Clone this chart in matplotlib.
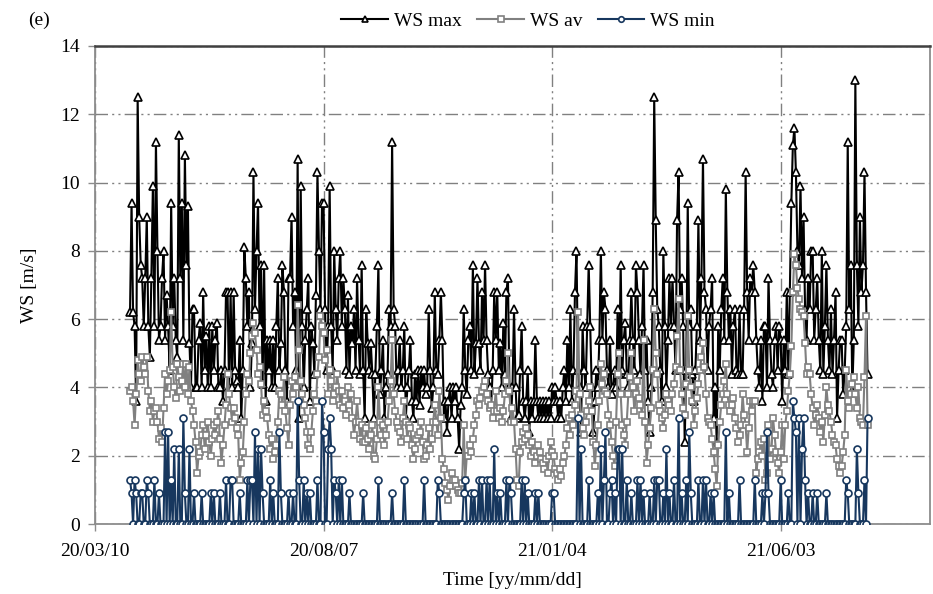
import matplotlib
matplotlib.use("Agg")
import matplotlib.pyplot as plt
import matplotlib.dates as mdates
import numpy as np

plt.rcParams['font.family'] = ['Liberation Serif', 'DejaVu Serif']

# daily series, first day 2020-04-02
start_day = "2020-04-02"

ws_max = [
    6.2, 9.4, 6.2, 5.8, 3.6, 12.5, 9.0, 7.6, 7.2, 5.8, 7.2, 9.0, 5.8, 4.9, 7.2, 9.9, 5.8, 11.2, 8.0, 5.4,
    5.8, 7.2, 8.0, 5.4, 6.7, 5.8, 4.5, 9.4, 5.8, 7.2, 5.4, 4.9, 11.4, 7.2, 9.4, 5.4, 10.8, 7.6, 9.3, 5.3,
    4.0, 6.3, 6.3, 4.0, 4.0, 5.4, 5.9, 4.0, 6.8, 4.5, 5.5, 4.0, 5.8, 4.0, 5.8, 4.5, 5.4, 5.9, 4.0, 4.0,
    4.5, 3.6, 4.5, 6.8, 6.8, 4.0, 6.8, 4.0, 6.8, 4.5, 4.2, 4.0, 5.4, 3.1, 4.5, 8.1, 7.2, 5.8, 6.8, 4.0,
    5.3, 10.3, 6.3, 8.0, 9.4, 5.8, 7.6, 4.1, 7.6, 3.6, 5.4, 4.5, 5.4, 4.0, 5.4, 4.0, 5.8, 7.2, 4.5, 5.3,
    7.6, 6.8, 4.5, 3.6, 7.2, 7.2, 9.0, 5.8, 6.8, 4.5, 10.7, 3.1, 9.9, 5.8, 4.0, 5.4, 6.3, 7.2, 3.6, 5.8,
    5.3, 4.4, 6.7, 10.3, 8.0, 6.3, 9.4, 9.4, 6.3, 4.5, 5.8, 9.9, 5.8, 4.5, 8.0, 6.3, 5.4, 7.2, 8.0, 5.8,
    7.2, 6.3, 4.5, 6.7, 4.4, 5.8, 5.3, 6.3, 4.5, 7.2, 5.4, 4.4, 7.6, 4.5, 3.1, 6.3, 5.3, 4.5, 5.3, 4.4,
    3.1, 4.4, 5.8, 7.6, 3.8, 4.5, 5.4, 3.1, 4.0, 4.4, 6.3, 5.8, 11.2, 6.3, 5.8, 4.0, 4.5, 5.4, 4.0, 4.5,
    5.8, 3.1, 4.0, 4.5, 5.4, 3.6, 3.1, 4.4, 3.6, 4.5, 3.5, 4.5, 4.0, 4.5, 3.8, 4.0, 6.3, 4.5, 3.4, 4.0,
    6.8, 4.5, 4.4, 5.4, 6.8, 5.4, 3.1, 3.6, 2.7, 3.6, 4.0, 3.1, 4.0, 3.6, 4.0, 3.1, 2.2, 3.5, 4.0, 6.3,
    4.5, 3.8, 5.4, 5.8, 4.5, 7.6, 4.4, 5.3, 7.2, 5.3, 4.5, 6.8, 5.4, 7.6, 5.4, 4.4, 4.0, 3.5, 4.5, 6.8,
    5.4, 6.8, 4.5, 5.3, 4.0, 5.9, 4.4, 6.8, 7.2, 4.0, 3.1, 4.0, 6.3, 4.0, 3.1, 3.2, 4.5, 5.8, 3.6, 3.1,
    3.6, 4.5, 2.7, 3.6, 3.1, 3.6, 5.4, 3.6, 3.1, 3.6, 3.1, 3.6, 3.1, 3.6, 3.1, 3.6, 3.1, 4.0, 3.6, 4.0,
    3.6, 3.1, 3.6, 3.1, 4.0, 4.5, 3.6, 5.4, 4.0, 6.3, 3.6, 4.5, 6.8, 8.0, 4.5, 4.0, 2.7, 5.8, 4.5, 4.0,
    5.8, 7.6, 5.8, 4.0, 2.7, 3.6, 4.5, 4.0, 5.4, 8.0, 5.4, 6.8, 6.3, 4.5, 4.0, 5.4, 3.8, 4.0, 4.5, 4.0,
    6.3, 4.4, 7.6, 4.5, 5.4, 5.9, 4.4, 4.0, 5.4, 6.8, 5.4, 4.5, 7.6, 6.8, 5.4, 4.4, 5.8, 7.6, 4.5, 5.4,
    3.6, 2.7, 4.0, 6.8, 12.5, 8.9, 6.3, 5.8, 4.5, 3.6, 8.0, 5.8, 4.0, 5.4, 7.2, 5.8, 7.2, 5.8, 4.5, 8.9,
    10.3, 6.3, 7.2, 5.8, 2.4, 4.5, 9.4, 5.8, 6.3, 4.4, 3.6, 4.5, 5.8, 8.9, 5.4, 7.2, 10.7, 6.8, 6.3, 4.5,
    5.8, 6.3, 7.2, 3.1, 4.0, 2.4, 5.8, 4.5, 6.3, 7.2, 5.4, 9.8, 6.8, 5.4, 6.3, 4.4, 5.8, 6.3, 4.5, 4.4,
    6.3, 4.4, 4.4, 6.3, 10.3, 6.8, 5.4, 7.2, 6.8, 7.6, 6.8, 5.4, 4.5, 4.0, 5.4, 3.6, 5.8, 5.8, 4.0, 7.2,
    5.4, 4.4, 4.0, 5.4, 5.8, 4.5, 5.8, 5.4, 3.6, 5.4, 4.5, 6.8, 4.4, 6.8, 9.4, 11.1, 11.6, 10.3, 8.0, 7.6,
    9.9, 7.2, 9.0, 6.3, 5.4, 7.2, 6.3, 8.0, 8.0, 5.4, 6.3, 7.2, 5.4, 4.5, 8.0, 4.4, 5.8, 7.6, 5.4, 4.5,
    6.3, 4.4, 5.4, 6.8, 3.1, 4.5, 5.4, 5.4, 3.8, 4.5, 5.8, 11.2, 6.3, 7.6, 3.9, 5.4, 13.0, 7.6, 5.8, 9.0,
    6.8, 7.6, 10.3, 6.8, 4.4,
]

ws_av = [
    3.9, 4.0, 3.6, 2.9, 3.8, 4.8, 4.4, 4.2, 4.9, 4.6, 4.4, 4.9, 3.9, 3.3, 3.6, 3.0, 3.3, 3.4, 3.0, 2.5,
    2.8, 2.4, 3.4, 4.4, 3.8, 4.2, 4.5, 6.2, 4.6, 4.0, 3.7, 4.7, 4.3, 3.9, 4.2, 4.7, 4.0, 4.7, 3.8, 4.6,
    3.6, 3.3, 2.9, 2.4, 1.5, 2.0, 2.1, 2.6, 2.9, 2.2, 2.6, 3.0, 2.4, 2.0, 2.5, 2.9, 2.6, 3.0, 3.3, 2.5,
    1.8, 2.3, 2.9, 3.5, 4.4, 3.8, 3.4, 3.0, 3.4, 3.1, 2.8, 2.6, 1.3, 1.8, 2.1, 3.0, 3.8, 4.4, 4.2, 5.0,
    5.5, 5.9, 5.6, 5.1, 4.4, 4.6, 4.1, 3.2, 3.6, 3.3, 3.1, 2.6, 2.2, 2.5, 1.9, 2.1, 2.3, 3.0, 3.9, 3.8,
    3.5, 4.3, 3.3, 2.8, 2.3, 3.5, 4.2, 3.8, 4.3, 4.0, 6.4, 5.1, 4.2, 3.8, 3.5, 3.1, 2.7, 2.3, 2.2, 2.7,
    3.3, 3.8, 3.6, 4.4, 4.9, 6.1, 5.8, 5.6, 4.8, 5.1, 3.8, 4.5, 4.2, 3.6, 3.8, 4.0, 4.4, 3.9, 3.5, 3.9,
    3.4, 3.6, 3.2, 4.0, 3.5, 3.8, 3.1, 2.6, 3.0, 3.6, 3.0, 2.5, 2.9, 2.4, 2.4, 2.8, 2.5, 2.2, 2.6, 2.9,
    2.0, 1.9, 2.5, 4.0, 3.0, 2.6, 2.9, 2.3, 2.6, 3.0, 3.6, 4.2, 5.4, 3.8, 3.3, 3.0, 2.8, 2.7, 2.4, 3.1,
    3.6, 3.0, 2.5, 2.9, 2.8, 2.3, 1.9, 2.2, 2.5, 2.6, 2.7, 3.0, 2.4, 1.9, 2.0, 2.3, 2.8, 2.2, 2.5, 3.0,
    3.5, 3.0, 2.6, 3.9, 3.1, 1.9, 1.6, 1.2, 1.0, 0.7, 1.1, 1.5, 1.3, 1.3, 1.1, 1.0, 0.9, 0.9, 1.2, 2.9,
    1.3, 2.0, 2.0, 2.3, 2.1, 2.5, 2.9, 3.2, 3.6, 3.5, 3.7, 3.9, 4.0, 4.2, 3.8, 3.6, 3.4, 3.5, 3.1, 3.3,
    3.9, 3.3, 3.1, 3.4, 3.0, 3.3, 3.8, 4.2, 5.0, 3.9, 3.0, 3.4, 3.0, 2.2, 1.3, 1.1, 2.1, 2.4, 2.7, 2.5,
    2.8, 2.6, 2.3, 2.0, 2.4, 2.1, 1.8, 2.0, 2.3, 2.1, 1.9, 1.8, 1.6, 1.9, 1.5, 2.0, 2.4, 2.1, 2.0, 1.6,
    1.5, 1.3, 1.6, 1.4, 1.8, 2.0, 2.3, 2.8, 3.1, 2.6, 3.2, 2.9, 3.5, 3.9, 6.2, 3.8, 3.2, 2.8, 2.6, 3.0,
    3.3, 3.6, 4.0, 3.3, 2.4, 1.7, 2.3, 2.9, 3.6, 4.7, 4.1, 4.4, 3.9, 3.8, 3.2, 2.9, 2.4, 2.0, 1.7, 3.0,
    4.4, 5.0, 3.8, 2.9, 2.6, 2.3, 3.0, 3.8, 4.3, 5.0, 4.0, 3.3, 3.8, 4.2, 3.7, 3.5, 3.2, 5.4, 3.0, 1.8,
    2.3, 2.8, 3.4, 4.5, 6.3, 5.0, 4.4, 3.5, 3.3, 3.1, 2.8, 3.2, 3.8, 3.6, 3.5, 3.3, 3.8, 4.1, 4.6, 5.5,
    6.6, 4.5, 3.8, 3.4, 3.2, 4.1, 6.1, 4.5, 4.0, 3.6, 2.9, 3.3, 3.7, 4.1, 4.5, 4.9, 5.3, 4.6, 3.8, 3.1,
    3.0, 2.9, 2.5, 2.1, 1.6, 1.1, 2.3, 3.0, 3.5, 3.8, 4.2, 4.7, 3.8, 3.5, 3.3, 3.5, 3.7, 3.1, 2.8, 2.4,
    2.6, 2.9, 3.8, 3.2, 2.9, 2.1, 2.8, 3.6, 3.3, 3.6, 3.6, 1.5, 1.9, 2.1, 2.4, 2.0, 2.5, 1.3, 1.5, 2.9,
    1.9, 2.2, 3.1, 2.6, 2.1, 1.8, 1.5, 2.1, 2.9, 1.9, 2.9, 3.3, 3.9, 4.4, 5.2, 6.8, 7.9, 7.6, 6.9, 6.6,
    6.3, 6.2, 6.1, 5.3, 4.4, 4.6, 4.4, 3.8, 3.4, 2.9, 3.2, 3.5, 3.1, 2.7, 3.0, 2.4, 3.2, 4.0, 3.5, 3.3,
    3.0, 2.6, 2.4, 2.3, 1.9, 1.7, 1.5, 1.7, 2.1, 2.6, 4.5, 3.6, 3.4, 3.8, 4.1, 4.3, 3.8, 3.4, 4.0, 3.1,
    3.0, 2.9, 4.3, 6.1, 2.9,
]

ws_min = [
    1.3, 0.9, 0, 1.3, 0.9, 0, 0, 0.9, 0.9, 0, 0, 1.3, 0.9, 0, 0, 0, 1.3, 0, 0, 0.9,
    0, 0, 0, 2.7, 0, 2.7, 0, 1.3, 0, 2.2, 0, 0, 2.2, 0, 0, 3.1, 0.9, 0, 0, 2.2,
    0, 0, 0.9, 0, 0, 0, 0, 0.9, 0, 0, 0, 0, 0, 0.9, 0, 0.9, 0, 0, 0, 0.9,
    0, 0, 0, 1.3, 0, 0, 1.3, 1.3, 0, 0, 0, 0, 0.9, 0, 0, 0, 0, 1.3, 0, 1.3,
    1.3, 0, 2.7, 0, 2.2, 0, 2.2, 0.9, 0, 0, 0, 0, 1.3, 0, 0.9, 0, 0, 0, 2.7, 0.9,
    0, 0, 0, 0, 0.9, 0, 0, 0.9, 0, 0, 3.6, 1.3, 0, 0, 1.3, 0, 0.9, 0, 0.9, 0,
    0, 0, 0, 1.3, 0, 0, 3.6, 2.7, 0, 0, 2.2, 3.1, 2.2, 0, 1.3, 0.9, 0, 1.3, 0, 1.3,
    0, 0, 0, 0, 0.9, 0, 0, 0, 0, 0, 0, 0, 0, 0.9, 0, 0, 0, 0, 0, 0,
    0, 0, 0, 1.3, 0, 0, 0, 0, 0, 0, 0, 0, 0.9, 0, 0, 0, 0, 0, 0, 0,
    1.3, 0, 0, 0, 0, 0, 0, 0, 0, 0, 0, 0, 0, 1.3, 0, 0, 0, 0, 0, 0,
    0, 0, 1.3, 0.9, 0, 0, 0, 0, 0, 0, 0, 0, 0, 0, 0, 0, 0, 0, 0, 0.9,
    1.3, 0, 0, 0, 0.9, 0, 0.9, 0, 0, 1.3, 0, 1.3, 0, 0, 1.3, 0, 1.3, 0, 0, 2.2,
    0, 0.9, 0, 0.9, 0, 0, 0, 1.3, 0, 1.3, 0.9, 0, 0, 0, 0, 0, 0, 1.3, 0, 1.3,
    0, 0.9, 0, 0, 0, 0, 0.9, 0, 0.9, 0, 0, 0, 0, 0, 0, 0, 0, 0.9, 0.9, 0,
    0, 0, 0, 0, 0, 0, 0, 0, 0, 0, 0, 0, 0, 0, 3.1, 0, 2.2, 0, 0, 0,
    0, 1.3, 0, 0, 0, 0, 0, 0.9, 0, 2.2, 0, 1.3, 2.7, 0, 0, 0.9, 1.3, 0, 0.9, 0,
    2.2, 2.2, 0, 2.2, 0, 0, 1.3, 0, 0, 0.9, 0, 0, 0, 1.3, 0, 1.3, 0, 0.9, 0, 0,
    0, 0.9, 0, 0, 1.3, 0, 1.3, 1.3, 0, 0, 0.9, 0, 2.2, 0, 0.9, 0, 0, 1.3, 0, 0,
    3.1, 0, 0.9, 0, 0, 1.3, 0, 2.7, 0.9, 0, 0, 0, 0, 1.3, 0, 0, 1.3, 0, 1.3, 0,
    0, 0.9, 0, 0.9, 0, 0, 0, 0, 0, 0, 0, 2.7, 0, 0.9, 0, 0, 0, 0, 0, 0,
    1.3, 0, 0, 0, 0, 0, 0, 0, 0, 0, 1.3, 0, 0, 0, 0, 0.9, 0, 0.9, 2.7, 0.9,
    0, 0, 0, 0, 0, 0, 0, 1.3, 0, 0, 0, 0, 0.9, 0, 0, 3.6, 3.1, 2.7, 0, 3.1,
    0, 2.2, 3.1, 1.3, 0, 0.9, 0, 0, 0.9, 0, 0, 0.9, 0, 0, 0, 0, 0, 0.9, 0, 0,
    0, 0, 0, 0, 0, 0, 0, 0, 0, 0, 1.3, 0.9, 0, 0, 0, 0, 0, 2.2, 0.9, 0,
    0, 0, 1.3, 0, 3.1,
]

tick_dates = ["2020-03-10", "2020-08-07", "2021-01-04", "2021-06-03"]

dates = np.datetime64(start_day) + np.arange(len(ws_max))

fig = plt.figure(figsize=(9.33, 5.94), dpi=100)
ax = fig.add_axes([0.1018, 0.1178, 0.895, 0.8048])

ax.plot(dates, ws_max, color="black", lw=1.5, marker="^", ms=5.5, mfc="white",
        mec="black", mew=1.2, label="WS max", zorder=3)
ax.plot(dates, ws_av, color="#808080", lw=1.5, marker="s", ms=5, mfc="white",
        mec="#808080", mew=1.2, label="WS av", zorder=4)
ax.plot(dates, ws_min, color="#17375e", lw=1.5, marker="o", ms=5, mfc="white",
        mec="#17375e", mew=1.2, label="WS min", zorder=5)

ax.set_ylim(0, 14)
ax.set_yticks(np.arange(0, 15, 2))
ax.set_xlim(np.datetime64("2020-03-10"), np.datetime64("2021-09-09"))
ax.set_xticks([np.datetime64(d) for d in tick_dates])
ax.xaxis.set_major_formatter(mdates.DateFormatter("%y/%m/%d"))

dashdot = (0, (9, 3, 1.5, 3, 1.5, 3))
ax.grid(True, color="#808080", lw=1.0, linestyle=dashdot)
ax.set_axisbelow(True)

for s in ["left", "bottom", "right"]:
    ax.spines[s].set_color("#8c8c8c")
    ax.spines[s].set_linewidth(1.3)
ax.spines["top"].set_color("#404040")
ax.spines["top"].set_linewidth(1.8)

ax.tick_params(axis="both", direction="out", length=5, color="#8c8c8c",
               labelsize=14, width=1.0)
ax.tick_params(axis="x", pad=9)
ax.tick_params(axis="y", pad=6)

ax.set_xlabel("Time [yy/mm/dd]", fontsize=14, labelpad=8)
ax.set_ylabel("WS [m/s]", fontsize=14, labelpad=16)

fig.legend(loc="center", bbox_to_anchor=(0.566, 0.965), ncol=3, frameon=False,
           fontsize=14, handlelength=2.4, handletextpad=0.3, columnspacing=0.8,
           markerscale=0.8)
fig.text(0.03, 0.966, "(e)", fontsize=14, va="center", ha="left")

fig.savefig("out.png", dpi=100)
